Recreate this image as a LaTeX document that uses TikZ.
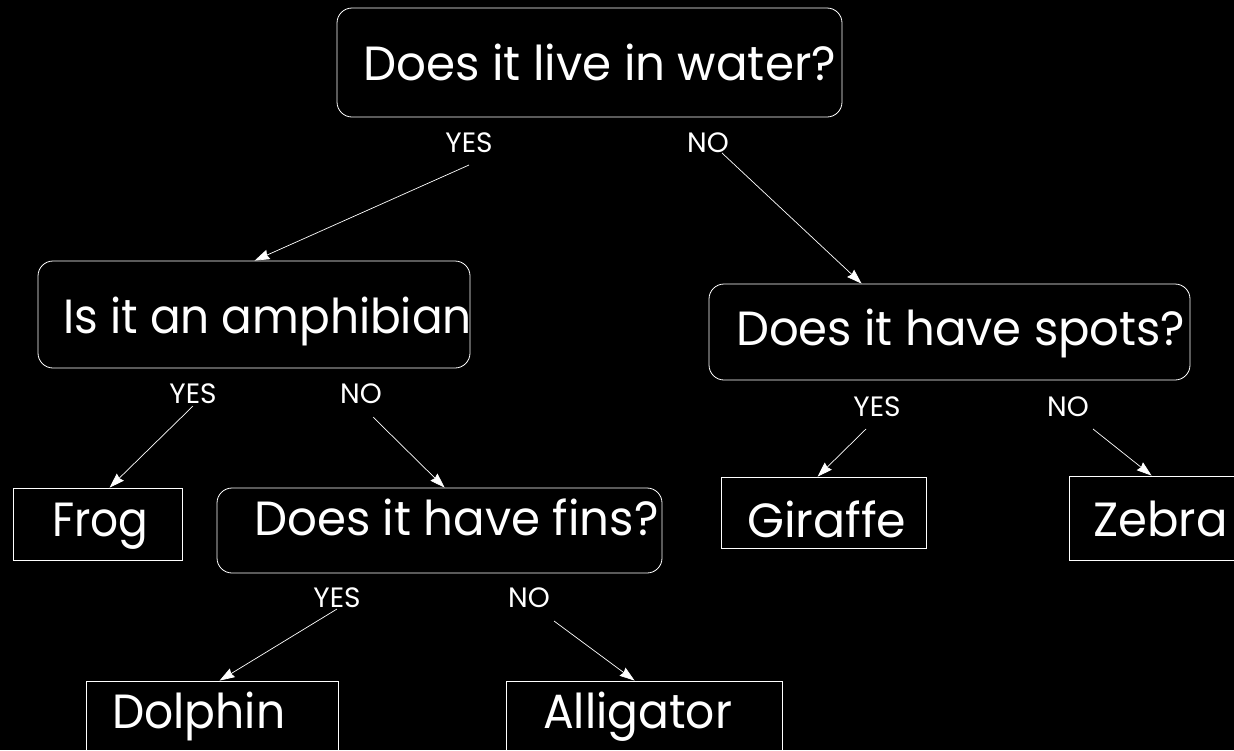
\documentclass[tikz,border=0pt]{standalone}
\usepackage{fontspec}
\setmainfont{Poppins}
\usetikzlibrary{arrows.meta,calc}
\newcommand{\sx}[2]{\scalebox{#1}[1]{#2}}
\begin{document}
\begin{tikzpicture}[x=1pt,y=-1pt,
  qbox/.style={draw=white,line width=0.8pt,rounded corners=15pt,inner sep=0pt},
  abox/.style={draw=white,line width=0.8pt,inner sep=0pt},
  big/.style={text=white,anchor=base west,inner sep=0pt,font=\fontsize{48}{50}\selectfont},
  ans/.style={text=white,inner sep=0pt,font=\fontsize{28}{30}\selectfont},
  arr/.style={draw=white,line width=0.7pt,-{Stealth[inset=1.5pt,length=15pt,width=10pt,fill=white]}}]
\fill[black] (0,0) rectangle (1234,750);
\useasboundingbox (0,0) rectangle (1234,750);
% boxes
\node[qbox,minimum width=505pt,minimum height=109pt] (water) at (589.5,62.5) {};
\node[qbox,minimum width=432pt,minimum height=107pt] (amph) at (254,314.5) {};
\node[qbox,minimum width=481pt,minimum height=96pt] (spots) at (949.5,332) {};
\node[qbox,minimum width=445pt,minimum height=85pt] (fins) at (439.5,530.5) {};
\node[abox,minimum width=169pt,minimum height=72pt] (frog) at (97.5,524) {};
\node[abox,minimum width=205pt,minimum height=71pt] (giraffe) at (823.5,512.5) {};
\node[abox,minimum width=200pt,minimum height=84pt] (zebra) at (1169,518) {};
\node[abox,minimum width=252pt,minimum height=90pt] (dolphin) at (212,726) {};
\node[abox,minimum width=276pt,minimum height=90pt] (alligator) at (644,726) {};
% texts
\node[big] (twater) at (363,80) {\sx{0.975}{Does it live in water?}};
\node[big] (tamph) at (63,333) {\sx{0.946}{Is it an amphibian}};
\node[big] (tspots) at (736,345) {\sx{0.97}{Does it have spots?}};
\node[big] (tfins) at (254,535) {\sx{0.973}{Does it have fins?}};
\node[big] (tfrog) at (52,536) {\sx{0.914}{Frog}};
\node[big] (tgiraffe) at (747,537) {\sx{0.99}{Giraffe}};
\node[big] (tzebra) at (1093,536) {\sx{0.97}{Zebra}};
\node[big] (tdolphin) at (112,728) {\sx{0.95}{Dolphin}};
\node[big] (talligator) at (543,728) {\sx{0.95}{Alligator}};
% answer labels
\node[ans] (y1) at (469,143) {YES};
\node[ans] (n1) at (708,143) {NO};
\node[ans] (y2) at (193,394) {YES};
\node[ans] (n2) at (361,394) {NO};
\node[ans] (y3) at (337,598) {YES};
\node[ans] (n3) at (529,598) {NO};
\node[ans] (y4) at (877,407) {YES};
\node[ans] (n4) at (1068,407) {NO};
% connectors
\draw[arr] ([yshift=-22pt]y1.center) -- ([xshift=217pt]amph.north west);
\draw[arr] ([xshift=14pt,yshift=-10pt]n1.center) -- ([xshift=153pt]spots.north west);
\draw[arr] ([yshift=-12pt]y2.center) -- ([xshift=97pt]frog.north west);
\draw[arr] ([xshift=12pt,yshift=-23pt]n2.center) -- ([xshift=228pt]fins.north west);
\draw[arr] ([yshift=-11pt]y3.center) -- ([xshift=134pt]dolphin.north west);
\draw[arr] ([xshift=25pt,yshift=-23pt]n3.center) -- ([xshift=129pt]alligator.north west);
\draw[arr] ([xshift=-11pt,yshift=-22pt]y4.center) -- ([xshift=97pt]giraffe.north west);
\draw[arr] ([xshift=25pt,yshift=-22pt]n4.center) -- ([xshift=83pt]zebra.north west);
\end{tikzpicture}
\end{document}
